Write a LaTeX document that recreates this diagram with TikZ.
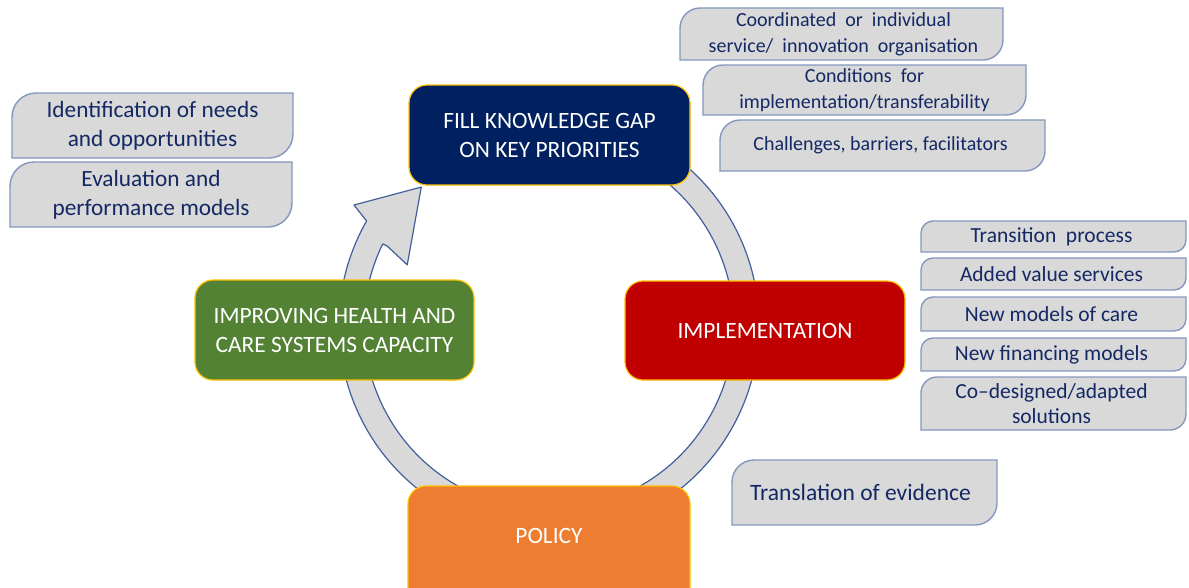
\documentclass[tikz,border=0pt]{standalone}
\usepackage{fontspec}
\setmainfont{Carlito}
\definecolor{navy}{RGB}{0,32,96}
\definecolor{tnavy}{RGB}{20,40,100}
\definecolor{gfill}{RGB}{217,217,217}
\definecolor{gline}{RGB}{132,151,190}
\definecolor{ringline}{RGB}{65,95,155}
\definecolor{gold}{RGB}{255,192,0}
\definecolor{cgreen}{RGB}{84,130,53}
\definecolor{cred}{RGB}{192,0,0}
\definecolor{corange}{RGB}{237,125,49}
\tikzset{
  gboxstyle/.style={draw=gline, line width=1.4pt, fill=gfill},
  gtext/.style={text=tnavy, align=center, inner sep=0pt},
  cbox/.style={draw=gold, line width=1.2pt, rounded corners=18pt, inner sep=0pt,
     text=white, align=center, font=\fontsize{23.4}{29}\selectfont},
  ringstyle/.style={draw=ringline, line width=1.2pt, fill=gfill, line join=round}
}
\newcommand\gbox[9]{%
  \draw[gboxstyle] (#2,-#5) -- (#2,-#3-#6) arc[start angle=180,end angle=90,radius=#6]
    -- (#4,-#3) -- (#4,-#5+#6) arc[start angle=0,end angle=-90,radius=#6] -- cycle;
  \node[gtext, font=#7] (#1) at ({(#2+#4)/2+#8},{-(#3+#5)/2}) {#9};}
\begin{document}
\begin{tikzpicture}[x=1pt,y=1pt]
\useasboundingbox (0,0) rectangle (1189,-587);
\clip (0,0) rectangle (1189,-587);
% ring arrow
\begin{scope}[shift={(549,-325)}]
\draw[ringstyle] (60:210) arc[start angle=60, end angle=-209.7, radius=210]
  -- (-211.6:229) -- (-227.2:188) -- (-203:154) -- (-206:180)
  -- (-206:185) arc[start angle=-206, end angle=60, radius=185] -- cycle;
\end{scope}
% coloured boxes
\node[cbox, fill=navy, minimum width=281pt, minimum height=100pt] (gap) at (549.5,-135)
  {FILL KNOWLEDGE GAP\\ON KEY PRIORITIES};
\node[cbox, fill=cgreen, minimum width=279pt, minimum height=100pt] (capacity) at (334.5,-330)
  {IMPROVING HEALTH AND\\CARE SYSTEMS CAPACITY};
\node[cbox, fill=cred, minimum width=280pt, minimum height=99pt] (impl) at (765,-330.5)
  {IMPLEMENTATION};
\node[cbox, fill=corange, minimum width=282pt, minimum height=120pt] (policy) at (549,-546)
  {};
\node[text=white, font=\fontsize{23.4}{29}\selectfont] (policytxt) at (549,-536) {POLICY};
% left boxes
\gbox{needs}{12}{93}{293}{158}{24}{\fontsize{23.3}{29}\selectfont}{0}{Identification of needs\\and opportunities}
\gbox{eval}{10}{162}{292}{227}{24}{\fontsize{23.3}{29}\selectfont}{0}{Evaluation and\\performance models}
% top right boxes
\gbox{coord}{680}{8}{1003}{60}{20}{\fontsize{20}{26}\selectfont}{2}{Coordinated\ \ or\ \ individual\\service/\ \ innovation\ \ organisation}
\gbox{cond}{703}{65}{1026}{115}{20}{\fontsize{20}{26}\selectfont}{0}{Conditions\ \ for\\implementation/transferability}
\gbox{chall}{720}{120}{1045}{171}{20}{\fontsize{20}{26}\selectfont}{-2}{Challenges, barriers, facilitators}
% right boxes
\gbox{trans}{921}{221}{1186}{252}{12}{\fontsize{21.5}{25}\selectfont}{-2}{Transition\ \ process}
\gbox{added}{921}{258}{1186}{290}{12}{\fontsize{21.5}{25}\selectfont}{-2}{Added value services}
\gbox{care}{921}{297}{1186}{331}{12}{\fontsize{21.5}{25}\selectfont}{-2}{New models of care}
\gbox{fin}{921}{338}{1186}{371}{12}{\fontsize{21.5}{25}\selectfont}{-2}{New financing models}
\gbox{codes}{921}{377}{1186}{430}{16}{\fontsize{21.5}{25}\selectfont}{-2}{Co--designed/adapted\\solutions}
\gbox{evid}{732}{460}{997}{525}{22}{\fontsize{23.5}{28}\selectfont}{-4}{Translation of evidence}
\end{tikzpicture}
\end{document}
